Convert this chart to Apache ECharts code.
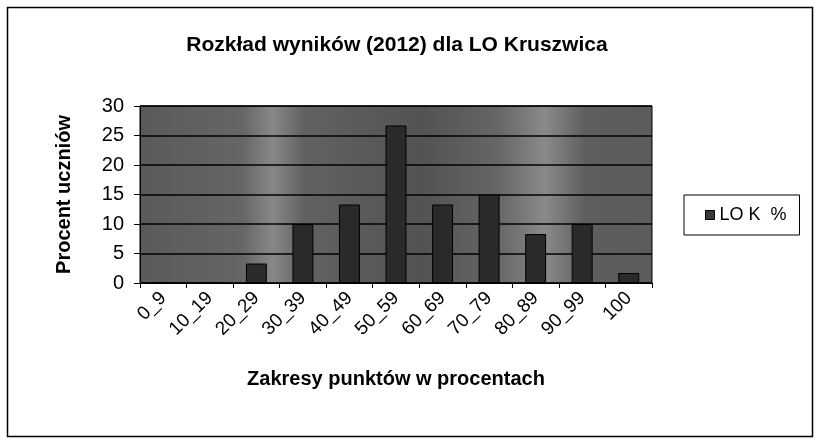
<!DOCTYPE html>
<html>
<head>
<meta charset="utf-8">
<script src="https://cdn.jsdelivr.net/npm/echarts@6/dist/echarts.min.js"></script>
<style>
  html, body { margin: 0; padding: 0; background: #fff; }
  #main { width: 819px; height: 443px; }
</style>
</head>
<body>
<div id="main"></div>
<script>
// dane z wykresu
var kategorie = ['0_9', '10_19', '20_29', '30_39', '40_49', '50_59', '60_69', '70_79', '80_89', '90_99', '100'];
var wartosci = [0, 0, 3.3, 10, 13.3, 26.7, 13.3, 15, 8.3, 10, 1.7];
var nazwaSerii = 'LO K  %';

var myChart = echarts.init(document.getElementById('main'));

var option = {
    animation: false,
    textStyle: { fontFamily: 'Liberation Sans, Arial, sans-serif', color: '#000' },
    title: {
        text: 'Rozkład wyników (2012) dla LO Kruszwica',
        left: 392,
        textAlign: 'center',
        top: 30,
        textStyle: { fontSize: 21, fontWeight: 'bold', color: '#000' }
    },
    legend: {
        left: 684,
        top: 195,
        orient: 'vertical',
        borderColor: '#000',
        borderWidth: 1,
        padding: [11, 13, 11, 21],
        itemWidth: 9,
        itemHeight: 9,
        itemGap: 0,
        icon: 'rect',
        itemStyle: { color: '#3a3a3a', borderColor: '#000', borderWidth: 1 },
        textStyle: { fontSize: 18, color: '#000' },
        data: [nazwaSerii]
    },
    grid: {
        left: 140,
        right: 167,
        top: 106,
        bottom: 160,
        show: true,
        borderColor: '#000',
        borderWidth: 1,
        backgroundColor: {
            type: 'linear', x: 0, y: 0, x2: 1, y2: 0,
            colorStops: [
                { offset: 0, color: '#5a5a5a' },
                { offset: 0.2, color: '#666' },
                { offset: 0.26, color: '#888' },
                { offset: 0.32, color: '#626262' },
                { offset: 0.55, color: '#535353' },
                { offset: 0.7, color: '#666' },
                { offset: 0.79, color: '#8a8a8a' },
                { offset: 0.87, color: '#5e5e5e' },
                { offset: 1, color: '#5c5c5c' }
            ]
        }
    },
    xAxis: {
        type: 'category',
        data: kategorie,
        name: 'Zakresy punktów w procentach',
        nameLocation: 'middle',
        nameGap: 86,
        nameTextStyle: { fontSize: 20, fontWeight: 'bold', color: '#000' },
        axisLine: { lineStyle: { color: '#000', width: 1 } },
        axisTick: { show: true, length: 5, lineStyle: { color: '#000' } },
        axisLabel: { rotate: 45, fontSize: 19, color: '#000', margin: 12, interval: 0 }
    },
    yAxis: {
        type: 'value',
        min: 0,
        max: 30,
        interval: 5,
        name: 'Procent uczniów',
        nameLocation: 'middle',
        nameGap: 66,
        nameTextStyle: { fontSize: 20, fontWeight: 'bold', color: '#000' },
        axisLine: { show: true, lineStyle: { color: '#000', width: 1 } },
        axisTick: { show: true, length: 6, lineStyle: { color: '#000' } },
        axisLabel: { fontSize: 20, color: '#000', margin: 16 },
        splitLine: { show: true, lineStyle: { color: '#000', width: 1.5 } }
    },
    series: [{
        name: nazwaSerii,
        type: 'bar',
        data: wartosci,
        barWidth: '45%',
        itemStyle: {
            color: '#2a2a2a',
            borderColor: '#000',
            borderWidth: 1
        }
    }],
    graphic: [{
        type: 'rect',
        shape: { x: 7.5, y: 7.5, width: 805, height: 429 },
        style: { fill: null, stroke: '#000', lineWidth: 1.5 },
        silent: true
    }]
};

myChart.setOption(option);
</script>
</body>
</html>
